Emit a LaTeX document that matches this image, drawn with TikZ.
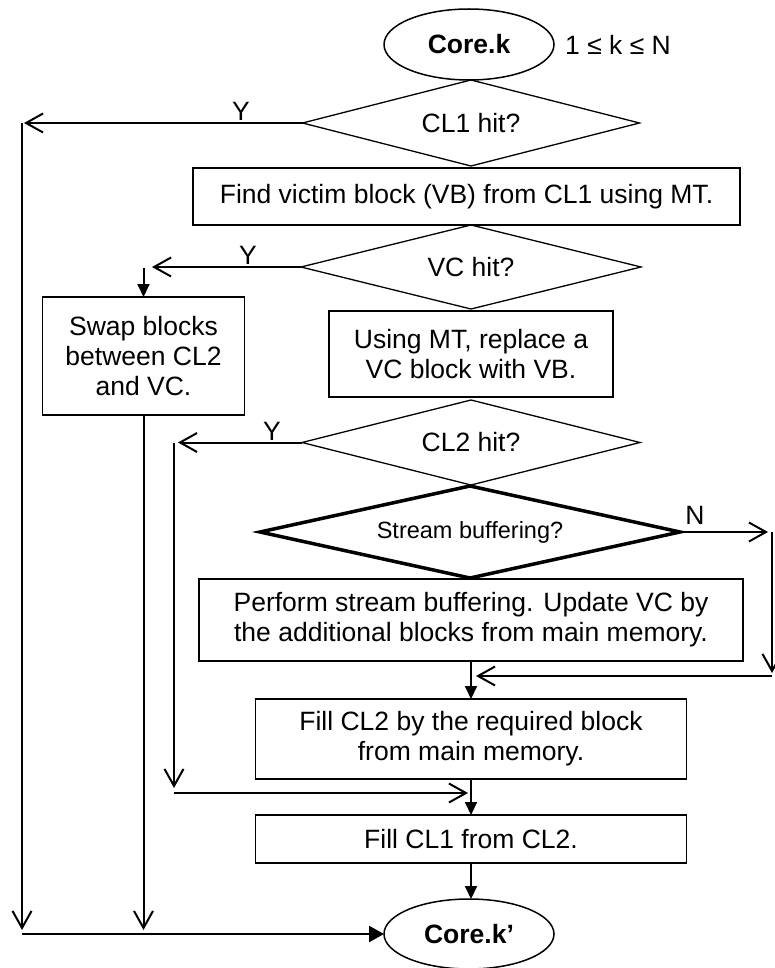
\documentclass[tikz,border=0pt]{standalone}
\usepackage{fontspec}
\setmainfont{Liberation Sans}
\usetikzlibrary{shapes.geometric,arrows.meta}
\begin{document}
\begin{tikzpicture}[x=1pt,y=-1pt,
  every node/.style={outer sep=0pt},
  txt/.style={font=\fontsize{26.5}{30}\selectfont},
  box/.style={draw,line width=1.5pt,inner sep=0pt,align=center,txt},
  dec/.style={draw,diamond,line width=1.3pt,inner sep=0pt,txt},
  term/.style={draw,ellipse,line width=1.5pt,inner sep=0pt,font=\fontsize{26.5}{30}\selectfont\bfseries},
  conn/.style={line width=2pt},
  openarr/.style={conn,-{Straight Barb[length=17pt,width=19pt]}},
  fillarr/.style={conn,-{Triangle[length=13pt,width=12pt]}},
  lbl/.style={txt,inner sep=0pt}
]
\useasboundingbox (0,0) rectangle (774,968);

\node[term,minimum width=170pt,minimum height=71pt] (corek) at (469,44.5) {Core.k};
\node[lbl] (range) at (618,45) {1 ≤ k ≤ N};
\node[dec,aspect=3.9,minimum width=337pt,minimum height=86pt] (cl1) at (471,123) {CL1 hit?};
\node[box,minimum width=547pt,minimum height=57pt] (find) at (466.5,196.5) {Find victim block (VB) from CL1 using MT.};
\node[dec,aspect=4.05,minimum width=340pt,minimum height=84pt] (vc) at (471,267) {VC hit?};
\node[box,minimum width=202pt,minimum height=118pt] (swap) at (143.5,356) {Swap blocks\\between CL2\\and VC.};
\node[box,minimum width=284pt,minimum height=86pt] (using) at (471,354) {Using MT, replace a\\VC block with VB.};
\node[dec,aspect=3.98,minimum width=338pt,minimum height=85pt] (cl2) at (471,442.5) {CL2 hit?};
\node[dec,aspect=4.57,line width=3.5pt,minimum width=420pt,minimum height=92pt,font=\fontsize{23.5}{28}\selectfont] (stream) at (470,532) {Stream buffering?};
\node[box,minimum width=544pt,minimum height=82pt] (perform) at (471,620) {Perform stream buffering. Update VC by\\the additional blocks from main memory.};
\node[box,minimum width=431pt,minimum height=80pt] (fill2) at (471,739) {Fill CL2 by the required block\\from main memory.};
\node[box,minimum width=431pt,minimum height=48pt] (fill1) at (471,839) {Fill CL1 from CL2.};
\node[term,minimum width=170pt,minimum height=70pt] (corekp) at (469,934) {Core.k’};

\node[lbl] (y1) at (241,111) {Y};
\node[lbl] (y2) at (248,255) {Y};
\node[lbl] (y3) at (272,431) {Y};
\node[lbl] (n4) at (695,515) {N};

% CL1 yes
\coordinate (a1) at (24,123);
\draw[openarr] (cl1.west) -- (a1);
\coordinate (l1) at (22,123);
\coordinate (l1e) at (22,930);
\draw[openarr] (l1) -- (l1e);
\coordinate (b0) at (22,934);
\draw[conn,line width=2.5pt,-{Triangle[length=15pt,width=16pt]}] (b0) -- (corekp.west);

% VC yes
\coordinate (a2) at (152,267);
\draw[openarr] (vc.west) -- (a2);
\coordinate (v2) at (143.5,268);
\draw[fillarr] (v2) -- (swap.north);
\coordinate (v2e) at (143.5,930);
\draw[openarr] (swap.south) -- (v2e);

% CL2 yes
\coordinate (a3) at (178,442.5);
\draw[openarr] (cl2.west) -- (a3);
\coordinate (v3) at (174,442.5);
\coordinate (v3e) at (174,788);
\draw[openarr] (v3) -- (v3e);
\coordinate (h3) at (174,793);
\coordinate (h3e) at (468,793);
\draw[openarr] (h3) -- (h3e);

% Stream buffering no
\coordinate (a4) at (768,532);
\draw[openarr] (stream.east) -- (a4);
\coordinate (v4) at (772,532);
\coordinate (v4e) at (772,673);
\draw[openarr] (v4) -- (v4e);
\coordinate (h4) at (772,676);
\coordinate (h4e) at (476,676);
\draw[openarr] (h4) -- (h4e);

% main flow
\draw[fillarr] (perform.south) -- (fill2.north);
\draw[fillarr] (fill2.south) -- (fill1.north);
\draw[fillarr] (fill1.south) -- (fill1.south |- corekp.north);
\end{tikzpicture}
\end{document}
